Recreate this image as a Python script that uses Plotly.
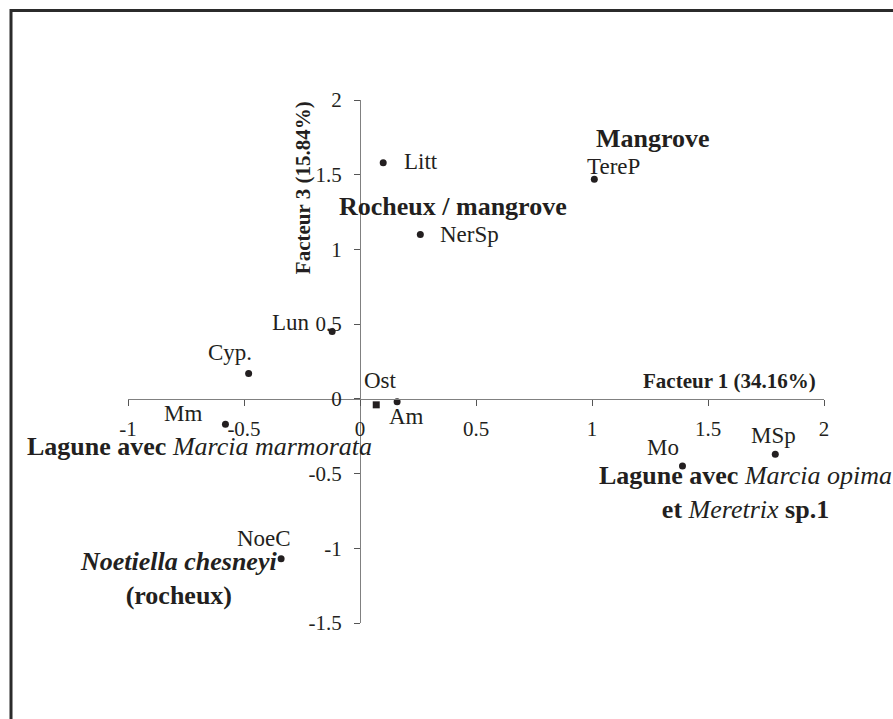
import plotly.graph_objects as go

# Species coordinates on factors 1 and 3
species = ["Litt", "TereP", "NerSp", "Lun", "Cyp.", "Am", "Mm", "NoeC", "Mo", "MSp"]
f1 = [0.10, 1.01, 0.26, -0.12, -0.48, 0.16, -0.58, -0.34, 1.39, 1.79]
f3 = [1.58, 1.47, 1.10, 0.45, 0.17, -0.02, -0.17, -1.07, -0.45, -0.37]

# Centroid (square marker)
centre_name = ["Ost"]
centre_f1 = [0.07]
centre_f3 = [-0.04]

x_ticks = [-1, -0.5, 0, 0.5, 1, 1.5, 2]
x_ticklabels = ["-1", "-0.5", "0", "0.5", "1", "1.5", "2"]
y_ticks = [-1.5, -1, -0.5, 0, 0.5, 1, 1.5, 2]
y_ticklabels = ["-1.5", "-1", "-0.5", "0", "0.5", "1", "1.5", "2"]

X_RANGE = [-1, 2]
Y_RANGE = [-1.5, 2]

W, H = 893, 719
M_L, M_R, M_T, M_B = 128, 69, 100, 96
PW, PH = W - M_L - M_R, H - M_T - M_B

INK = "#231f20"
FONT = "'Times New Roman', 'Liberation Serif', serif"

# label placement: (xanchor, xshift, yshift) in pixels relative to each point
label_pos = {
    "Litt": ("left", 19, 1),
    "TereP": ("left", -9, 13),
    "NerSp": ("left", 18, 0),
    "Lun": ("right", -20, 9),
    "Cyp.": ("right", 5, 21),
    "Am": ("center", 9, -15),
    "Mm": ("right", -21, 11),
    "NoeC": ("center", -17, 20),
    "Mo": ("center", -19, 19),
    "MSp": ("center", -2, 19),
    "Ost": ("center", 4, 24),
}

fig = go.Figure()
fig.add_trace(go.Scatter(
    x=f1, y=f3, mode="markers", text=species,
    marker=dict(symbol="circle", size=7, color=INK),
    hoverinfo="text", showlegend=False,
))
fig.add_trace(go.Scatter(
    x=centre_f1, y=centre_f3, mode="markers", text=centre_name,
    marker=dict(symbol="square", size=7, color=INK),
    hoverinfo="text", showlegend=False,
))

annotations = []
for name, x, y in list(zip(species, f1, f3)) + list(zip(centre_name, centre_f1, centre_f3)):
    xa, xs, ys = label_pos[name]
    annotations.append(dict(
        x=x, y=y, xref="x", yref="y", text=name, showarrow=False,
        xanchor=xa, yanchor="middle", xshift=xs, yshift=ys,
        font=dict(family=FONT, size=23, color=INK),
    ))

# group labels
groups = [
    ("<b>Mangrove</b>", 1.263, 1.74),
    ("<b>Rocheux / mangrove</b>", 0.401, 1.285),
    ("<b>Lagune avec </b><i>Marcia marmorata</i>", -0.69, -0.321),
    ("<b><i>Noetiella chesneyi</i></b><br><b>(rocheux)</b>", -0.784, -1.205),
    ("<b>Lagune avec </b><i>Marcia opima</i><br><b>et </b><i>Meretrix</i><b> sp.1</b>", 1.662, -0.625),
]
for txt, x, y in groups:
    annotations.append(dict(
        x=x, y=y, xref="x", yref="y", text=txt, showarrow=False,
        xanchor="center", yanchor="middle", align="center",
        font=dict(family=FONT, size=26, color=INK),
    ))

# axis titles
annotations.append(dict(
    x=1.591, y=0.12, xref="x", yref="y", text="<b>Facteur 1 (34.16%)</b>",
    showarrow=False, xanchor="center", yanchor="middle",
    font=dict(family=FONT, size=21, color=INK),
))
annotations.append(dict(
    x=-0.246, y=1.416, xref="x", yref="y", text="<b>Facteur 3 (15.84%)</b>",
    showarrow=False, xanchor="center", yanchor="middle", textangle=-90,
    font=dict(family=FONT, size=21, color=INK),
))

# outer frame (runs past the right and bottom edges)
def px_x(p):
    return (p - M_L) / PW

def px_y(p):
    return (H - M_B - p) / PH

shapes = [dict(
    type="rect", xref="paper", yref="paper",
    x0=px_x(11), x1=px_x(910), y0=px_y(740), y1=px_y(10.5),
    line=dict(color="#2b2b2b", width=3), fillcolor="rgba(0,0,0,0)",
    layer="above",
)]

axis_common = dict(
    showgrid=False, zeroline=False, showline=True,
    linecolor="#808080", linewidth=1,
    ticks="outside", ticklen=6, tickwidth=1, tickcolor="#555555",
    tickfont=dict(family=FONT, size=21, color=INK),
    anchor="free", tickmode="array",
)

fig.update_layout(
    width=W, height=H,
    margin=dict(l=M_L, r=M_R, t=M_T, b=M_B),
    paper_bgcolor="white", plot_bgcolor="white",
    font=dict(family=FONT, color=INK),
    xaxis=dict(
        range=X_RANGE, tickvals=x_ticks, ticktext=x_ticklabels,
        position=(0 - Y_RANGE[0]) / (Y_RANGE[1] - Y_RANGE[0]),
        ticklabelstandoff=5, **axis_common,
    ),
    yaxis=dict(
        range=Y_RANGE, tickvals=y_ticks, ticktext=y_ticklabels,
        position=(0 - X_RANGE[0]) / (X_RANGE[1] - X_RANGE[0]),
        ticklabelstandoff=8, **axis_common,
    ),
    annotations=annotations,
    shapes=shapes,
    showlegend=False,
)

fig.write_html("out.html")
